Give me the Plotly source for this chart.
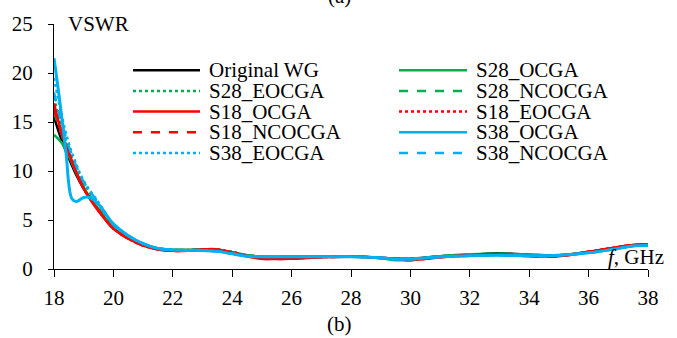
import plotly.graph_objects as go

x_common = [18, 18.25, 18.5, 18.75, 19, 19.5, 20, 20.5, 21, 21.5, 22, 22.5, 23, 23.5, 24,
            24.5, 25, 26, 27, 28, 29, 29.5, 30, 31, 32, 33, 34, 35, 36, 37, 37.5, 38]

original_wg = [15.5, 13.2, 11.3, 9.6, 8.2, 6.0, 4.2, 3.2, 2.5, 2.1, 1.95, 1.95, 2.0, 1.95, 1.7,
               1.4, 1.25, 1.25, 1.25, 1.3, 1.15, 1.05, 1.05, 1.3, 1.45, 1.6, 1.45, 1.4, 1.75, 2.2, 2.4, 2.45]
s28_ocga = [13.7, 12.9, 11.5, 9.8, 8.3, 6.1, 4.3, 3.3, 2.5, 2.1, 1.95, 1.95, 2.0, 1.95, 1.7,
            1.4, 1.25, 1.25, 1.25, 1.3, 1.1, 0.9, 0.95, 1.3, 1.5, 1.55, 1.45, 1.4, 1.7, 2.2, 2.45, 2.5]
s28_eocga = [17.5, 14.5, 12.2, 10.3, 8.8, 6.5, 4.5, 3.3, 2.5, 2.1, 1.95, 1.95, 2.0, 2.0, 1.75,
             1.4, 1.25, 1.25, 1.25, 1.3, 1.1, 1.0, 1.0, 1.3, 1.45, 1.5, 1.4, 1.4, 1.7, 2.2, 2.45, 2.5]
s28_ncocga = [16.0, 13.8, 11.8, 10.0, 8.5, 6.2, 4.3, 3.2, 2.5, 2.1, 1.95, 1.95, 2.0, 1.95, 1.7,
              1.4, 1.25, 1.25, 1.25, 1.3, 1.1, 0.95, 1.0, 1.3, 1.45, 1.55, 1.45, 1.4, 1.7, 2.2, 2.4, 2.45]
s18_ocga = [16.9, 14.0, 11.9, 9.9, 8.2, 5.9, 4.1, 3.1, 2.4, 2.0, 1.85, 1.85, 2.0, 2.0, 1.65,
            1.3, 1.05, 1.05, 1.2, 1.25, 1.15, 1.05, 0.9, 1.2, 1.4, 1.5, 1.3, 1.3, 1.75, 2.25, 2.45, 2.5]
s18_eocga = [16.5, 13.8, 11.7, 9.9, 8.2, 6.0, 4.2, 3.1, 2.4, 2.0, 1.9, 1.9, 2.0, 2.0, 1.7,
             1.35, 1.1, 1.1, 1.2, 1.25, 1.15, 1.05, 0.95, 1.2, 1.4, 1.5, 1.35, 1.35, 1.75, 2.25, 2.45, 2.5]
s18_ncocga = [16.3, 13.9, 11.8, 9.9, 8.2, 6.0, 4.1, 3.1, 2.4, 2.0, 1.85, 1.85, 2.0, 2.0, 1.65,
              1.3, 1.05, 1.05, 1.2, 1.25, 1.15, 1.0, 0.9, 1.2, 1.4, 1.5, 1.3, 1.3, 1.75, 2.25, 2.45, 2.5]
s38_eocga = [19.5, 15.8, 12.8, 10.7, 9.0, 6.8, 4.6, 3.4, 2.6, 2.1, 1.95, 1.9, 1.9, 1.8, 1.55,
             1.3, 1.25, 1.25, 1.25, 1.25, 1.15, 1.0, 1.0, 1.25, 1.35, 1.4, 1.35, 1.4, 1.65, 2.1, 2.35, 2.4]
s38_ncocga = [18.0, 15.0, 12.5, 10.5, 8.9, 6.7, 4.5, 3.4, 2.6, 2.1, 1.95, 1.9, 1.9, 1.8, 1.55,
              1.3, 1.25, 1.25, 1.25, 1.25, 1.15, 1.0, 1.0, 1.25, 1.35, 1.4, 1.35, 1.4, 1.65, 2.1, 2.35, 2.4]

x_s38_ocga = [18, 18.2, 18.4, 18.6, 18.75, 19.0, 19.2, 19.5, 20, 20.5, 21, 21.5, 22, 22.5, 23, 23.5, 24,
              24.5, 25, 26, 27, 28, 29, 29.5, 30, 31, 32, 33, 34, 35, 36, 37, 37.5, 38]
s38_ocga = [21.5, 17.0, 12.0, 7.2, 6.9, 7.3, 7.3, 6.6, 4.6, 3.4, 2.6, 2.1, 1.95, 1.9, 1.9, 1.8, 1.55,
            1.3, 1.25, 1.25, 1.25, 1.25, 1.15, 1.0, 1.0, 1.25, 1.35, 1.4, 1.35, 1.4, 1.65, 2.1, 2.35, 2.4]

names = ["Original WG", "S28_OCGA", "S28_EOCGA", "S28_NCOCGA", "S18_OCGA",
         "S18_EOCGA", "S18_NCOCGA", "S38_OCGA", "S38_EOCGA", "S38_NCOCGA"]
xs = [x_common, x_common, x_common, x_common, x_common, x_common, x_common, x_s38_ocga, x_common, x_common]
ys = [original_wg, s28_ocga, s28_eocga, s28_ncocga, s18_ocga, s18_eocga, s18_ncocga,
      s38_ocga, s38_eocga, s38_ncocga]
colors = ["#000000", "#00B050", "#00B050", "#00B050", "#FF0000",
          "#FF0000", "#FF0000", "#00B0F0", "#00B0F0", "#00B0F0"]
dashes = ["solid", "solid", "dot", "dash", "solid", "dot", "dash", "solid", "dot", "dash"]
widths = [2.5, 2.5, 2.5, 2.5, 2.5, 2.5, 2.5, 3, 2.5, 2.5]

FONT = "Times New Roman"
FS = 21

fig = go.Figure()
for n, x, y, c, d, w in zip(names, xs, ys, colors, dashes, widths):
    fig.add_trace(go.Scatter(x=x, y=y, name=n, mode="lines", line_shape="spline",
                             line=dict(color=c, dash=d, width=w), showlegend=False))

# manual legend (2 columns, row-wise order)
L, T, W = 54, 20, 594
Hh = 249
def px_x(p):
    return (p - L) / W
def px_y(p):
    return 1 - (p - T) / Hh

col_line_x = [(133, 200), (399, 467)]
col_text_x = [207, 474]
row_y = [67, 88, 109, 130, 151]
for i, (n, c, d) in enumerate(zip(names, colors, dashes)):
    r, col = divmod(i, 2)
    x0, x1 = col_line_x[col]
    yy = px_y(row_y[r])
    fig.add_shape(type="line", xref="paper", yref="paper", x0=px_x(x0), x1=px_x(x1), y0=yy, y1=yy,
                  line=dict(color=c, dash=d, width=2.5))
    fig.add_annotation(text=n, xref="paper", yref="paper", x=px_x(col_text_x[col]), y=yy,
                       xanchor="left", yanchor="middle", showarrow=False,
                       font=dict(family=FONT, size=FS, color="#000"))

fig.add_annotation(text="VSWR", xref="paper", yref="paper", x=px_x(66), y=px_y(20),
                   xanchor="left", yanchor="middle", showarrow=False,
                   font=dict(family=FONT, size=FS, color="#000"))
fig.add_annotation(text="<i>f</i>, GHz", xref="paper", yref="paper", x=px_x(666), y=px_y(257),
                   xanchor="right", yanchor="middle", showarrow=False,
                   font=dict(family=FONT, size=FS, color="#000"))
fig.add_annotation(text="(b)", xref="paper", yref="paper", x=px_x(339), y=px_y(325),
                   xanchor="center", yanchor="middle", showarrow=False,
                   font=dict(family=FONT, size=FS, color="#000"))
fig.add_annotation(text="(a)", xref="paper", yref="paper", x=px_x(339), y=px_y(-8),
                   xanchor="center", yanchor="middle", showarrow=False,
                   font=dict(family=FONT, size=FS, color="#000"))

fig.update_xaxes(range=[18, 38], tickvals=list(range(18, 39, 2)), showgrid=False, zeroline=False,
                 showline=True, linecolor="#000", linewidth=1.3, ticks="outside", ticklen=7,
                 tickcolor="#000", tickwidth=1.3, ticklabelstandoff=3,
                 tickfont=dict(family=FONT, size=FS, color="#000"))
fig.update_yaxes(range=[0, 25], tickvals=[0, 5, 10, 15, 20, 25], showgrid=False, zeroline=False,
                 showline=True, linecolor="#000", linewidth=1.3, ticks="outside", ticklen=5,
                 tickcolor="#000", tickwidth=1.3, ticklabelstandoff=11,
                 tickfont=dict(family=FONT, size=FS, color="#000"))

fig.update_layout(width=677, height=338, margin=dict(l=L, r=677 - L - W, t=T, b=338 - T - Hh),
                  plot_bgcolor="white", paper_bgcolor="white")
fig.write_html("out.html")
